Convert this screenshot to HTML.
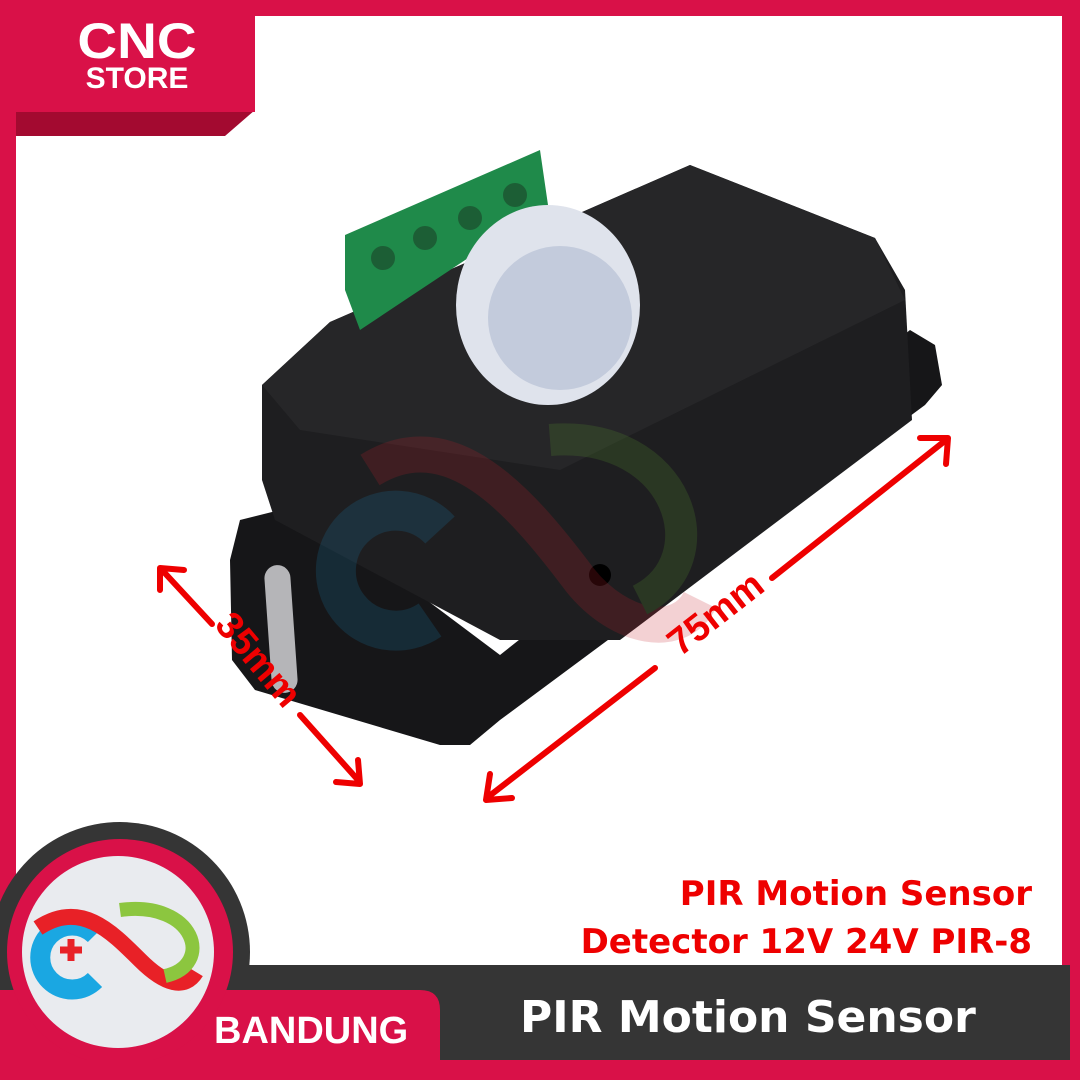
<!DOCTYPE html><html><head><style>body{margin:0}#c{position:relative;width:1080px;height:1080px;background:#fff;overflow:hidden;font-family:"Liberation Sans",sans-serif}</style></head><body><div id="c">
<svg width="1080" height="1080" style="position:absolute;left:0;top:0">
<rect x="0" y="0" width="1080" height="16" fill="#d91148"/>
<rect x="0" y="0" width="16" height="1080" fill="#d91148"/>
<rect x="1062" y="0" width="18" height="1080" fill="#d91148"/>
<polygon points="16,110 255,110 225,136 16,136" fill="#a30a30"/>
<rect x="16" y="16" width="239" height="96" fill="#d91148"/>
<!-- product -->
<polygon points="240,520 300,505 500,655 910,330 935,345 942,385 925,405 500,720 470,745 440,745 255,690 232,660 230,560" fill="#161618"/>
<polygon points="262,385 330,322 690,165 875,238 905,290 912,420 620,640 500,640 275,520 262,480" fill="#1e1e20"/>
<polygon points="262,385 330,322 690,165 875,238 905,300 560,470 300,430" fill="#262628"/>
<rect x="268" y="565" width="26" height="128" rx="13" fill="#b5b5b8" transform="rotate(-4 281 629)"/>
<polygon points="345,235 540,150 548,205 405,300 360,330 345,290" fill="#1f8a4a"/>
<g fill="#1c5e35"><circle cx="383" cy="258" r="12"/><circle cx="425" cy="238" r="12"/><circle cx="470" cy="218" r="12"/><circle cx="515" cy="195" r="12"/></g>
<ellipse cx="548" cy="305" rx="92" ry="100" fill="#dfe3ec"/>
<ellipse cx="560" cy="318" rx="72" ry="72" fill="#c3cbdc"/>
<circle cx="600" cy="575" r="11" fill="#000"/>
<g opacity="0.2">
<path d="M440,530 A60,60 0 1 0 430,620" stroke="#1a7fb0" stroke-width="40" fill="none"/>
<path d="M370,470 C450,420 520,500 580,580 C620,630 680,640 700,600" stroke="#c41e2a" stroke-width="36" fill="none"/>
<path d="M550,440 C680,430 720,560 640,600" stroke="#5a9a30" stroke-width="32" fill="none"/>
</g>
<g stroke="#e00" stroke-width="6" fill="none" stroke-linecap="round" stroke-linejoin="round">
<line x1="162" y1="570" x2="212" y2="624"/><line x1="300" y1="715" x2="358" y2="780"/>
<polyline points="160,590 160,568 184,570"/><polyline points="336,782 360,784 358,760"/>
<line x1="488" y1="797" x2="655" y2="668"/><line x1="772" y1="578" x2="946" y2="440"/>
<polyline points="490,774 486,800 512,798"/><polyline points="920,438 948,438 946,464"/>
</g>
<text x="258" y="672" font-size="38" font-weight="bold" fill="#e00" text-anchor="middle" transform="rotate(50 258 660)">35mm</text>
<text x="716" y="626" font-size="38" font-weight="bold" fill="#e00" text-anchor="middle" transform="rotate(-38 716 614)">75mm</text>
<circle cx="120" cy="952" r="130" fill="#353535"/>
<rect x="240" y="965" width="830" height="100" fill="#353535"/>
<path d="M0,990 H420 Q440,990 440,1010 V1062 H0 Z" fill="#d91148"/>
<circle cx="120" cy="952" r="113" fill="#d91148"/>
<rect x="0" y="1060" width="1080" height="20" fill="#d91148"/>
<circle cx="118" cy="952" r="96" fill="#e9ebef"/>
<path d="M95,935 A32,32 0 1 0 95,980" stroke="#1aa7e2" stroke-width="20" fill="none"/>
<path d="M38,928 C80,900 110,930 140,960 C165,985 185,990 196,972" stroke="#e82127" stroke-width="16" fill="none"/>
<path d="M120,910 C195,900 215,965 165,976" stroke="#8cc63f" stroke-width="14" fill="none"/>
<path d="M60,950h22M71,939v22" stroke="#e82127" stroke-width="7"/>
</svg>
<div style="position:absolute;left:78px;top:16px;width:118px;text-align:center;color:#fff;font-weight:bold;line-height:1"><div style="font-size:50px;transform:scaleX(1.1)">CNC</div><div style="font-size:30px;margin-top:-2px">STORE</div></div>
<div style="position:absolute;left:214px;top:1010px;color:#fff;font-weight:bold;font-size:38px">BANDUNG</div>
<div style="position:absolute;left:520px;top:992px;color:#fff;font-weight:bold;font-size:44px;font-family:'DejaVu Sans',sans-serif">PIR Motion Sensor</div>
<div style="position:absolute;right:48px;top:870px;text-align:right;color:#e00;font-weight:bold;font-size:34px;line-height:48px;font-family:'DejaVu Sans',sans-serif">PIR Motion Sensor<br>Detector 12V 24V PIR-8</div>
</div></body></html>
